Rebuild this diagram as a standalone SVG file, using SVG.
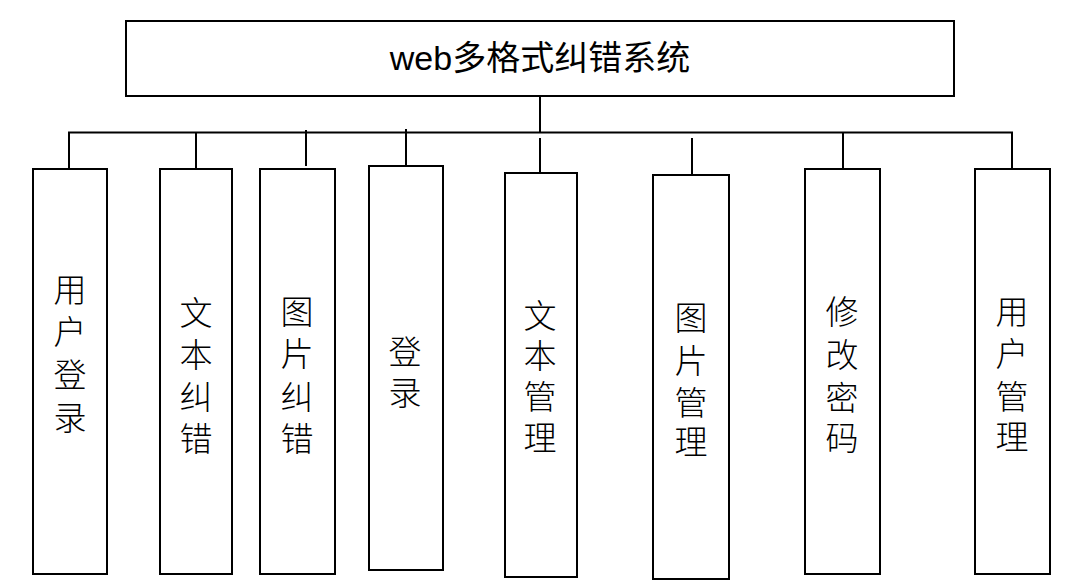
<svg xmlns="http://www.w3.org/2000/svg" width="1074" height="585" viewBox="0 0 1074 585">
<style>
.box{fill:#fff;stroke:#000;stroke-width:2}
.ln{stroke:#000;stroke-width:2;fill:none}
.t{font-family:"Noto Sans CJK SC","Liberation Serif",serif;font-size:33px;font-weight:300;fill:#000;text-anchor:middle}
.title{font-family:"Liberation Sans","Noto Sans CJK SC",sans-serif;font-size:34px;fill:#000;text-anchor:middle}
</style>
<rect width="1074" height="585" fill="#fff"/>
<g id="connectors">
<path class="ln" d="M540 96V132.5M68 132.5H1013"/>
<path class="ln" d="M69 132.5V169M196 132.5V169M306 130V166M406 129V166M540 138V173M692 138V175M843 132.5V169M1012 132.5V169"/>
</g>
<g id="root">
<rect class="box" x="126" y="21" width="828" height="75"/>
<text class="title" x="540" y="70">web多格式纠错系统</text>
</g>
<g id="n1">
<rect class="box" x="33" y="169" width="74" height="405"/>
<text class="t"><tspan x="70" y="302">用</tspan><tspan x="70" y="344">户</tspan><tspan x="70" y="387">登</tspan><tspan x="70" y="430">录</tspan></text>
</g>
<g id="n2">
<rect class="box" x="160" y="169" width="72" height="405"/>
<text class="t"><tspan x="196" y="325">文</tspan><tspan x="196" y="367">本</tspan><tspan x="196" y="409">纠</tspan><tspan x="196" y="451">错</tspan></text>
</g>
<g id="n3">
<rect class="box" x="260" y="169" width="75" height="405"/>
<text class="t"><tspan x="297" y="324">图</tspan><tspan x="297" y="366">片</tspan><tspan x="297" y="409">纠</tspan><tspan x="297" y="451">错</tspan></text>
</g>
<g id="n4">
<rect class="box" x="369" y="166" width="74" height="404"/>
<text class="t"><tspan x="405" y="364">登</tspan><tspan x="405" y="405">录</tspan></text>
</g>
<g id="n5">
<rect class="box" x="505" y="173" width="72" height="404"/>
<text class="t"><tspan x="540" y="328">文</tspan><tspan x="540" y="368">本</tspan><tspan x="540" y="409">管</tspan><tspan x="540" y="450">理</tspan></text>
</g>
<g id="n6">
<rect class="box" x="653" y="175" width="76" height="404"/>
<text class="t"><tspan x="691" y="330">图</tspan><tspan x="691" y="373">片</tspan><tspan x="691" y="415">管</tspan><tspan x="691" y="454">理</tspan></text>
</g>
<g id="n7">
<rect class="box" x="805" y="169" width="75" height="405"/>
<text class="t"><tspan x="842" y="324">修</tspan><tspan x="842" y="367">改</tspan><tspan x="842" y="410">密</tspan><tspan x="842" y="450">码</tspan></text>
</g>
<g id="n8">
<rect class="box" x="975" y="169" width="75" height="405"/>
<text class="t"><tspan x="1012" y="324">用</tspan><tspan x="1012" y="366">户</tspan><tspan x="1012" y="409">管</tspan><tspan x="1012" y="449">理</tspan></text>
</g>
</svg>
